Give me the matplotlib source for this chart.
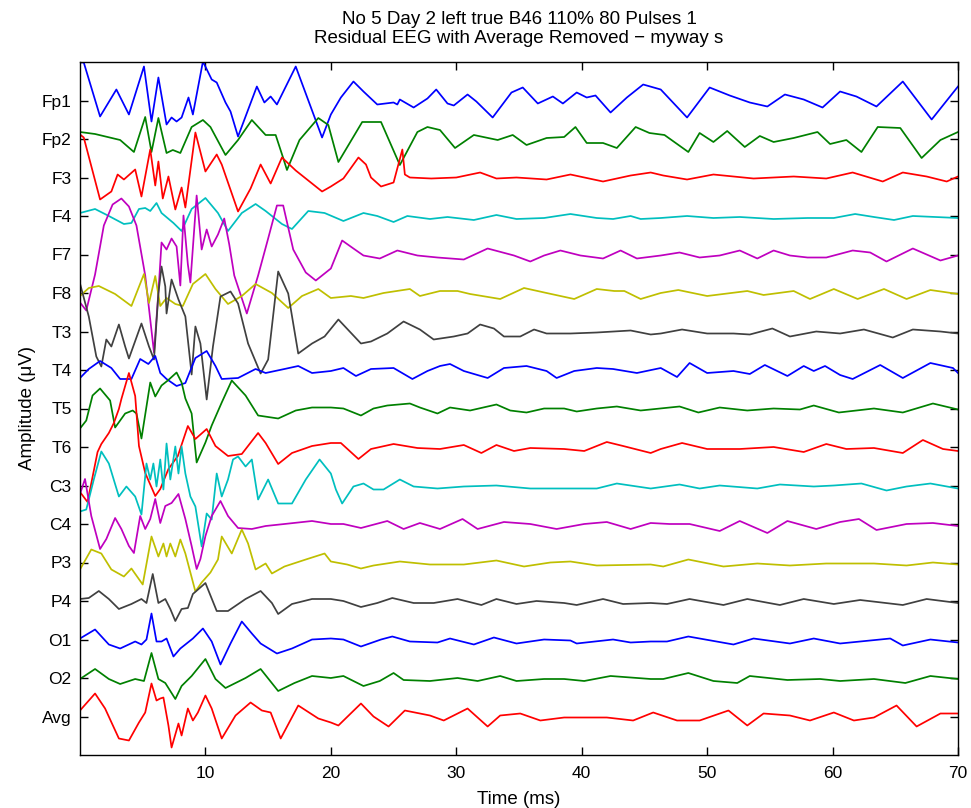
import matplotlib
matplotlib.use("Agg")
import matplotlib.pyplot as plt

plt.rcParams['font.family'] = ['Liberation Sans', 'DejaVu Sans']

# Channel names (top to bottom)
channels = ["Fp1", "Fp2", "F3", "F4", "F7", "F8", "T3", "T4", "T5", "T6",
            "C3", "C4", "P3", "P4", "O1", "O2", "Avg"]

# Each trace: (time ms, amplitude) pairs; amplitude in display units
FP1 = [(0, 38), (0.3, 38), (1.6, -16), (2.9, 11), (3.9, -14), (5.1, 34), (5.7, -21), (6.25, 23),
       (6.9, -24), (7.3, -17), (7.7, -21), (8.1, -17), (8.65, 3), (9.0, -14), (9.8, 39), (10.5, 21),
       (10.9, 18), (11.6, -2), (12.0, -11), (12.6, -36), (14.1, 14), (14.7, -2), (15.2, 4), (15.7, -4),
       (17.2, 34), (19.3, -37), (20.0, -14), (20.8, 3), (21.8, 19), (22.6, 9), (23.7, -4), (25.0, -2),
       (25.3, -4), (25.5, 1), (26.6, -7), (27.7, 2), (28.4, 11), (29.3, -3), (29.8, -5), (30.9, 6),
       (31.6, -1), (32.9, -17), (34.4, 8), (35.3, 13), (36.5, -3), (37.7, 4), (38.5, -3), (39.6, 8),
       (40.4, 3), (41.1, 5), (42.3, -12), (43.6, 3), (44.9, 16), (46.3, 11), (48.4, -17), (50.2, 13),
       (51.8, 5), (53.4, -2), (54.8, -6), (56.2, 6), (57.7, 1), (59.2, -7), (60.6, 9), (61.9, 4),
       (63.5, -6), (65.6, 19), (67.9, -19), (70, 14)]
FP2 = [(0, 7), (1.2, 5), (3.2, -1), (4.3, -13), (5.2, 22), (5.7, -13), (6.25, 21), (6.9, -14),
       (7.4, -11), (8.0, -14), (8.9, 12), (9.8, 19), (10.4, 12), (11.6, -16), (12.6, -1), (13.7, 19),
       (14.8, 4), (15.6, 4), (16.2, -19), (16.5, -31), (17.5, -1), (19.0, 21), (19.8, 14), (20.6, -23),
       (22.5, 17), (24.0, 17), (25.5, -26), (26.9, 7), (27.7, 12), (28.7, 9), (29.9, -9), (31.4, 4),
       (33.3, -1), (34.5, 4), (35.6, -6), (37.2, 1), (38.6, 2), (39.5, 12), (40.4, -4), (41.7, -4),
       (42.8, -9), (44.3, 12), (45.4, 6), (46.6, 4), (48.5, -13), (49.4, 6), (50.5, -3), (51.6, 8),
       (53.0, -8), (54.2, 3), (55.3, -3), (56.9, 1), (58.8, 7), (59.8, -5), (61.1, -1), (62.3, -13),
       (63.6, 12), (65.4, 11), (67.1, -19), (68.6, -1), (70, 7)]
F3 = [(0, 43), (0.3, 40), (1.6, -22), (2.5, -14), (3.0, 3), (3.5, -2), (4.4, 8), (4.9, -19),
      (5.6, 28), (6.0, -8), (6.25, 16), (6.6, -21), (7.05, 1), (7.6, -32), (8.1, -10), (8.4, -30),
      (9.2, 45), (10.0, 6), (10.9, 23), (11.3, 13), (12.6, -34), (13.6, -11), (14.4, 13), (15.2, -6),
      (16.1, 20), (17.2, 7), (19.3, -14), (20.0, -9), (21.0, -1), (22.2, 20), (22.8, 13), (23.2, 0),
      (24.0, -9), (25.0, -5), (25.7, 28), (25.9, 3), (26.3, 0), (28.0, -1), (30.0, 0), (31.9, 5),
      (33.2, -1), (34.8, 0), (37.2, -2), (39.1, 3), (41.7, -4), (43.9, 2), (45.5, 5), (46.5, 2),
      (48.4, -2), (50.5, 3), (53.7, -1), (56.9, 1), (59.5, -1), (61.6, 5), (64.0, -4), (65.6, 5),
      (67.5, 1), (69.1, -4), (70, 1)]
F4 = [(0, 3), (1.2, 7), (2.3, 0), (3.5, -8), (4.1, -7), (4.7, 7), (5.2, 8), (5.6, 5), (6.1, 13),
      (6.5, 3), (7.45, -7), (8.1, -15), (8.9, 7), (10.0, 18), (11.0, 3), (11.8, -15), (12.9, 3),
      (14.0, 12), (14.8, 5), (16.1, -8), (16.9, -13), (18.2, 5), (19.5, 3), (21.0, -5), (22.6, 3),
      (23.7, 0), (25.0, -6), (26.1, 0), (27.9, -3), (29.3, -1), (31.4, -4), (33.2, 1), (34.8, -3),
      (37.0, -2), (39.1, 2), (41.2, -2), (42.5, -3), (43.9, 0), (44.7, -3), (46.3, -2), (48.4, 0),
      (50.5, -2), (52.6, -1), (55.3, -3), (58.0, -2), (60.1, -2), (61.8, 2), (63.3, -1), (64.9, -4),
      (66.4, 0), (70, -2)]
F7 = [(0, -48), (0.5, -56), (1.2, -20), (1.9, 29), (2.6, 50), (3.3, 56), (3.9, 48), (4.5, 29),
      (5.2, -21), (5.9, -98), (6.25, -38), (6.5, 12), (6.9, 5), (7.3, 16), (7.7, 8), (8.0, -31),
      (8.25, 39), (8.6, -10), (8.8, -28), (9.3, 59), (9.7, 5), (10.1, 25), (10.5, 8), (11.0, 20),
      (11.5, 36), (11.9, 10), (12.3, -21), (13.3, -59), (14.2, -21), (15.0, 16), (15.7, 49),
      (16.2, 49), (17.0, 5), (18.0, -18), (18.8, -26), (20.0, -14), (20.9, 14), (21.8, 6),
      (22.6, -1), (23.9, -4), (25.3, 4), (26.9, -1), (28.5, -3), (30.6, -5), (32.5, 6), (34.6, -1),
      (35.9, -7), (37.0, -1), (38.3, 4), (39.9, -1), (41.7, -4), (43.1, 4), (44.4, -4), (46.3, -1),
      (47.8, 2), (49.4, -3), (51.0, -1), (52.6, 4), (54.0, -4), (55.3, 4), (56.6, -1), (58.0, -3),
      (59.5, -3), (61.6, 4), (63.0, 2), (64.3, -7), (66.4, 6), (68.6, -6), (70, -1)]
F8 = [(0, -3), (0.7, 5), (1.5, 7), (2.8, -1), (4.1, -13), (5.1, 19), (5.5, -10), (6.0, 17),
      (6.4, -13), (6.9, -5), (7.6, -11), (8.2, -13), (9.0, 9), (10.0, 19), (10.8, 4), (11.8, -11),
      (12.9, -3), (14.0, 9), (15.3, 0), (16.6, -15), (17.7, -3), (19.0, 4), (20.0, -5), (21.6, -3),
      (22.6, -5), (24.2, 0), (26.3, 4), (27.1, -3), (28.7, 2), (30.1, 2), (31.1, -1), (33.5, -6),
      (35.4, 5), (37.2, 0), (39.4, -6), (41.2, 4), (42.6, 2), (43.4, 2), (44.7, -6), (46.3, 0),
      (47.7, 3), (50.0, -3), (53.2, 2), (54.5, -2), (56.9, 2), (58.2, -6), (60.1, 4), (62.0, -6),
      (64.1, 4), (65.9, -6), (67.8, 3), (70, -1)]
T3 = [(0, 48), (0.7, 15), (1.3, -25), (1.7, -35), (2.1, -8), (2.5, -15), (3.1, 7), (3.6, -15),
      (3.9, -27), (4.9, 8), (5.5, -15), (5.9, -28), (6.25, 38), (6.5, 65), (6.8, 45), (6.9, 18),
      (7.3, 52), (7.85, 32), (8.4, 15), (8.9, -43), (9.2, 5), (9.6, -12), (10.1, -68), (10.6, -15),
      (11.2, 35), (12.0, 40), (12.6, 28), (13.4, -12), (14.4, -42), (15.0, -28), (15.8, 60),
      (16.6, 38), (17.4, -22), (18.5, -12), (19.5, -5), (20.6, 12), (22.4, -12), (23.2, -10),
      (24.5, -2), (25.8, 10), (27.1, 2), (28.2, -8), (29.8, -5), (30.9, -2), (31.9, 7), (33.0, 3),
      (33.8, -5), (35.1, -5), (36.2, 2), (37.2, -2), (39.1, -2), (41.2, -1), (43.9, 1), (45.5, -3),
      (46.3, -2), (48.0, 2), (50.0, -2), (52.1, -2), (53.4, -3), (55.2, 3), (56.6, -5), (58.7, 0),
      (60.6, -2), (62.5, 2), (64.8, -6), (66.4, 2), (68.6, 0), (70, -2)]
T4 = [(0, -8), (0.7, 1), (1.6, 9), (2.5, 2), (3.2, -9), (4.1, -9), (4.8, 11), (5.45, 6), (6.0, 14),
      (6.4, -3), (6.9, -9), (7.7, -16), (8.4, -13), (9.2, 12), (10.1, 19), (10.8, 4), (11.3, -9),
      (12.6, -8), (14.0, 1), (14.8, -3), (16.3, 1), (17.4, 4), (18.5, -3), (20.0, -1), (21.0, 2),
      (22.0, -6), (23.2, 1), (25.0, 2), (26.5, -9), (27.7, -1), (28.7, 4), (29.5, 6), (30.6, -1),
      (32.5, -8), (33.8, 2), (35.6, 4), (37.2, -1), (38.0, -8), (39.4, -1), (41.2, 2), (42.5, 1),
      (44.4, -3), (46.3, 2), (47.6, -7), (48.6, 7), (50.0, -3), (52.1, -1), (53.4, -4), (54.6, 5),
      (56.4, -6), (57.7, 4), (58.5, -1), (59.4, 4), (60.6, -5), (61.6, -9), (63.8, 5), (65.6, -8),
      (67.8, 7), (69.6, 2), (70, -3)]
T5 = [(0, -20), (0.5, -12), (1.0, 13), (1.6, 20), (2.4, 8), (2.8, -19), (3.6, -5), (4.2, -2),
      (4.5, -5), (4.9, -30), (5.6, 26), (6.0, 12), (6.5, 23), (7.0, 28), (7.7, 36), (8.1, 26),
      (8.4, 10), (8.9, -5), (9.3, -54), (10.0, -34), (10.5, -17), (11.3, 6), (12.1, 28), (13.2, 13),
      (14.2, -7), (15.8, -10), (17.2, -2), (18.5, 1), (20.0, 1), (21.0, 0), (22.4, -7), (23.4, 0),
      (24.5, 3), (26.3, 5), (27.1, 1), (28.5, -5), (29.5, 1), (31.1, -2), (33.2, 4), (34.3, -2),
      (35.6, -4), (37.0, 0), (38.6, 0), (39.6, -3), (41.2, 0), (42.8, 2), (44.7, -2), (47.8, 2),
      (49.3, -4), (51.0, 1), (53.2, -2), (55.3, 0), (57.4, -1), (58.5, 3), (60.5, -4), (63.3, 0),
      (65.6, -4), (68.0, 5), (70, -1)]
T6 = [(0, -45), (0.6, -55), (1.4, -5), (1.7, 3), (2.3, 14), (2.7, 24), (3.1, 38), (3.3, 48),
      (3.9, 74), (4.4, 51), (4.7, 1), (5.2, -26), (6.0, -49), (6.4, -42), (7.05, -22), (7.8, -9),
      (8.6, 21), (9.2, 8), (10.1, 18), (10.8, 1), (11.8, -9), (12.9, -7), (14.2, 14), (14.8, 4),
      (15.8, -17), (16.9, -6), (18.5, 1), (20.0, 4), (20.8, 4), (22.2, -12), (23.2, -2), (25.0, 3),
      (26.9, -1), (28.7, -2), (30.6, 2), (32.0, -6), (33.2, 2), (34.6, -4), (35.9, -1), (38.6, -2),
      (40.2, -4), (42.0, 5), (43.3, 1), (45.5, -6), (46.3, -2), (48.0, 4), (50.0, -2), (52.6, -2),
      (55.3, 0), (57.7, -5), (59.5, 3), (61.1, -2), (63.3, -1), (65.6, -6), (67.2, 7), (68.8, -2),
      (70, -4)]
C3 = [(0, -26), (0.5, -24), (1.1, 6), (1.7, 34), (2.3, 22), (3.1, -11), (3.7, -1), (4.4, -11),
      (4.9, -29), (5.3, 22), (5.6, 6), (5.85, 22), (6.1, -1), (6.4, 26), (6.65, -4), (6.9, 42),
      (7.2, 6), (7.6, 39), (7.85, 12), (8.1, 39), (8.4, 12), (8.8, -11), (9.2, -21), (9.7, -61),
      (10.1, -28), (10.5, -34), (10.9, 12), (11.3, -11), (11.8, 6), (12.2, 26), (12.6, 29),
      (13.2, 19), (13.7, 26), (14.2, -14), (15.0, 6), (15.8, -18), (16.9, -18), (18.0, 6),
      (19.1, 26), (20.0, 12), (20.4, -4), (20.9, -18), (21.8, -1), (22.6, 2), (23.4, -4), (24.2, -4),
      (25.5, 6), (26.6, -1), (28.5, -3), (30.6, -1), (33.2, 0), (35.9, -3), (38.6, -3), (41.2, -3),
      (42.8, 2), (45.5, -3), (47.8, 1), (49.4, -3), (51.0, 0), (54.0, -3), (55.8, 1), (58.5, -1),
      (60.1, 0), (62.3, 2), (64.3, -5), (65.9, -1), (67.8, 2), (70, -3)]
C4 = [(0, 30), (0.4, 45), (0.9, 8), (1.6, -25), (2.1, -15), (2.8, 6), (3.3, -5), (3.9, -22),
      (4.3, -29), (4.8, 8), (5.2, -5), (5.6, 5), (6.0, 25), (6.4, 1), (6.8, 18), (7.3, 21),
      (7.85, 30), (8.4, 5), (8.9, -22), (9.3, -45), (9.6, -35), (10.0, -12), (10.5, 8), (11.2, 23),
      (11.8, 8), (12.6, -4), (13.7, -5), (14.8, -2), (16.3, 0), (18.5, 3), (20.0, 0), (21.0, 0),
      (22.4, -4), (24.5, 3), (25.8, -5), (27.1, 1), (28.7, -5), (30.5, 5), (31.7, -5), (33.8, 2),
      (35.9, 0), (38.0, -5), (40.2, 0), (42.0, 2), (43.9, -5), (45.5, 1), (47.0, 0), (48.6, 0),
      (51.0, -7), (52.6, 3), (54.8, -9), (56.4, 3), (58.7, -5), (60.6, 2), (62.1, 5), (63.5, -6),
      (65.9, 0), (68.0, 1), (70, -2)]
P3 = [(0, -7), (0.9, 13), (1.7, 9), (2.5, -7), (3.5, -14), (4.1, -6), (5.0, -22), (5.7, 26),
      (6.25, 6), (6.65, 19), (6.9, 6), (7.2, 19), (7.6, 6), (8.0, 23), (8.4, 9), (9.2, -29),
      (9.7, -20), (10.4, -10), (11.0, 3), (11.3, 26), (12.1, 9), (12.9, 33), (13.4, 19), (14.0, -7),
      (14.8, -1), (15.3, -11), (16.3, -4), (18.0, 3), (19.5, 9), (20.0, 1), (21.3, -2), (22.4, -6),
      (23.4, -3), (25.5, 1), (27.9, -2), (30.6, -2), (33.2, 2), (35.4, -4), (37.5, 0), (39.1, 1),
      (41.2, -3), (45.5, -2), (46.5, -4), (48.5, 3), (51.3, -4), (54.0, -1), (56.6, -3), (59.5, -1),
      (63.3, -1), (65.9, -3), (68.0, 0), (70, -2)]
P4 = [(0, 2), (0.7, 3), (1.5, 10), (2.3, 2), (3.1, -8), (4.1, -3), (4.9, 2), (5.3, -2), (5.8, 27),
      (6.25, -2), (6.8, 2), (7.2, -8), (7.6, -20), (8.1, -8), (8.6, -7), (9.0, 7), (10.0, 18),
      (10.9, -10), (11.8, -10), (13.2, 2), (14.4, 10), (15.3, -2), (15.8, -13), (16.9, -3),
      (18.5, 2), (20.0, 2), (21.0, 0), (22.4, -6), (23.7, -2), (24.9, 3), (26.6, -2), (28.2, -2),
      (30.1, 2), (32.0, -4), (33.2, 2), (34.8, -3), (36.4, 0), (38.6, -2), (39.6, -4), (41.7, 2),
      (43.3, -3), (45.5, -2), (46.8, -3), (48.6, 2), (51.3, -4), (53.2, 2), (55.8, -4), (57.7, 2),
      (60.1, -3), (62.2, 1), (65.6, -4), (67.5, 2), (70, -2)]
O1 = [(0, 1), (1.2, 10), (2.3, -5), (3.2, -9), (4.4, -2), (4.9, -5), (5.3, 0), (5.7, 26),
      (6.1, -2), (6.5, -2), (6.9, 1), (7.45, -17), (8.0, -9), (8.4, -5), (9.0, 1), (9.8, 11),
      (10.5, -2), (11.2, -25), (12.0, -4), (12.9, 18), (13.7, 6), (14.4, -4), (15.7, -14),
      (16.9, -9), (18.5, 0), (20.0, 1), (21.0, 0), (22.4, -7), (24.0, 0), (24.9, 3), (26.3, -2),
      (28.5, -3), (29.5, 1), (31.4, -5), (33.0, 2), (34.8, -4), (37.0, 0), (39.1, -1), (39.6, -4),
      (42.5, 0), (43.9, -3), (45.5, -2), (46.8, -2), (48.5, 3), (52.1, -5), (53.7, 1), (56.6, -4),
      (58.5, 1), (60.6, -4), (64.6, 1), (65.6, -6), (67.8, 0), (70, -3)]
O2 = [(0, -1), (1.2, 9), (2.3, -1), (3.2, -6), (4.4, -1), (5.1, -3), (5.7, 25), (6.25, -1),
      (6.8, -5), (7.6, -21), (8.1, -8), (8.9, 2), (10.0, 19), (10.8, -1), (11.6, -10), (13.2, 0),
      (14.4, 9), (15.8, -13), (17.1, -5), (18.5, 2), (20.0, 0), (21.0, 2), (22.6, -8), (23.9, -3),
      (25.0, 5), (25.8, -2), (27.9, -3), (30.1, 0), (31.7, -3), (33.5, 2), (34.8, -3), (37.0, -1),
      (38.6, -1), (40.2, -3), (42.3, 2), (45.5, -1), (46.5, -1), (48.5, 5), (50.5, -3), (52.4, -5),
      (53.4, 2), (56.4, -2), (59.0, -1), (60.6, -3), (63.3, -1), (65.8, -5), (67.8, 2), (70, -1)]
AVG = [(0, 6), (1.2, 23), (2.0, 8), (3.1, -22), (3.9, -24), (4.7, -6), (5.2, 4), (5.7, 33),
       (6.1, 16), (6.4, 18), (6.65, 19), (7.05, -9), (7.3, -31), (7.85, -7), (8.1, -19), (8.6, 8),
       (9.0, -4), (9.4, 4), (10.0, 21), (10.5, 8), (11.3, -22), (12.4, 1), (13.6, 14), (14.5, 6),
       (15.2, 4), (16.0, -22), (17.4, 11), (19.0, -2), (20.0, -6), (20.6, -9), (22.4, 13), (23.4, 0),
       (24.6, -10), (25.9, 6), (27.9, 1), (29.0, -4), (30.9, 8), (32.5, -10), (33.5, 1), (35.1, 3),
       (36.7, -4), (38.6, -1), (40.7, -1), (42.0, -1), (44.1, -4), (45.7, 4), (47.6, -4), (49.4, -4),
       (51.7, 6), (53.2, -9), (54.5, 3), (56.6, 1), (58.2, -4), (60.1, 4), (61.7, -4), (63.3, -1),
       (65.1, 11), (66.7, -10), (68.6, 3), (70, 3)]

traces = [FP1, FP2, F3, F4, F7, F8, T3, T4, T5, T6, C3, C4, P3, P4, O1, O2, AVG]

colors = [(0, 0, 1), (0, 0.5, 0), (1, 0, 0), (0, 0.75, 0.75), (0.75, 0, 0.75),
          (0.75, 0.75, 0), (0.25, 0.25, 0.25)]

SPACING = 38.5  # amplitude units per channel slot

fig = plt.figure(figsize=(9.71, 8.08), dpi=100)
ax = fig.add_axes([80 / 971, 53 / 808, 878 / 971, 693 / 808])

for i, tr in enumerate(traces):
    t = [p[0] for p in tr]
    v = [i - p[1] / SPACING for p in tr]
    ax.plot(t, v, color=colors[i % len(colors)], lw=1.25)

ax.set_xlim(0, 70)
ax.set_ylim(len(channels), -1)
ax.set_yticks(range(len(channels)))
ax.set_yticklabels(channels, fontsize=12.5)
ax.set_xticks([10, 20, 30, 40, 50, 60, 70])
ax.tick_params(axis='x', labelsize=12.5, pad=8)
ax.tick_params(axis='y', pad=6)
ax.tick_params(direction='in', length=6, width=1, top=True, right=True)
for s in ax.spines.values():
    s.set_linewidth(1.0)

ax.set_xlabel("Time (ms)", fontsize=13.5, labelpad=7)
ax.set_ylabel("Amplitude (\u03bcV)", fontsize=13.5, labelpad=4)
ax.set_title("No 5 Day 2 left true B46 110% 80 Pulses 1\nResidual EEG with Average Removed \u2212 myway s",
             fontsize=13.5, pad=14, linespacing=1.15)

fig.savefig("out.png", dpi=100)
